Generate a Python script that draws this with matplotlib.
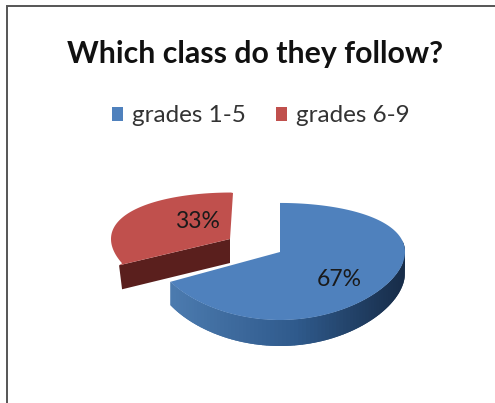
import numpy as np
import matplotlib
matplotlib.use("Agg")
import matplotlib.pyplot as plt
from matplotlib.patches import Polygon, Rectangle
from matplotlib.colors import to_rgb

title = "Which class do they follow?"
categories = ["grades 1-5", "grades 6-9"]
values = [67, 33]
labels = ["67%", "33%"]
colors = ["#4F81BD", "#C0504D"]

W, H = 495, 403
plt.rcParams["font.family"] = "Lato"
fig = plt.figure(figsize=(W / 100, H / 100), dpi=100)
ax = fig.add_axes([0, 0, 1, 1])
ax.set_xlim(0, W)
ax.set_ylim(H, 0)
ax.axis("off")

ax.add_patch(Rectangle((7, 6), W + 10, H + 10, fc="white", ec="#555555", lw=1.4))


def project(t, r=1.0, cx=280.0, cy=252.0, a_x=125.0, a_y=57.0):
    """t in degrees, clockwise from top; perspective squash of a unit disc."""
    a = np.radians(t)
    c, s = np.sin(a) * r, -np.cos(a) * r
    k = 0.162
    return cx + a_x * c, cy + a_y * s / (1 - k * s)


def lerp(c1, c2, f):
    a, b = np.array(to_rgb(c1)), np.array(to_rgb(c2))
    return tuple(a + (b - a) * f)


total = sum(values)
sweep_blue = 360.0 * values[0] / total

# blue: cut wall along the vertical edge
x0, y0 = project(0.0, 0.0)
x1, y1 = project(0.0)
ax.add_patch(Polygon([(x1, y1), (x0, y0), (x0, y0 + 12), (x1, y1 + 12)],
                     fc="#1f3a5c", ec="none", zorder=2))

# blue: outer wall with shading, from right extreme to left tip
ts = np.linspace(78, sweep_blue, 90)
for a, b in zip(ts[:-1], ts[1:]):
    b2 = min(b + 2.0, sweep_blue)
    xa, ya = project(a)
    xb, yb = project(b2)
    da = 21 + 5 * (-np.cos(np.radians(a)))
    db = 21 + 5 * (-np.cos(np.radians(b2)))
    f = (xa - 168) / 237
    col = lerp("#4D7CB0", "#2F5A8C", f / 0.55) if f < 0.55 else lerp("#2F5A8C", "#172C48", (f - 0.55) / 0.45)
    ax.add_patch(Polygon([(xa, ya), (xb, yb), (xb, yb + db), (xa, ya + da)],
                         fc=col, ec="none", zorder=2))

# blue: top face
tt = np.linspace(0, sweep_blue, 200)
px, py = project(tt)
ax.add_patch(Polygon(np.vstack([[x0, y0], np.column_stack([px, py])]), fc=colors[0], ec="none", zorder=3))

# red: exploded slice
tr = np.linspace(sweep_blue + 4, 360, 120)
rx, ry = project(tr, cx=231.0, cy=239.0, a_x=120.0, a_y=54.0)
ax_, ay_ = 230.0, 239.0
tip = (rx[0] - 3, ry[0] + 2)
ax.add_patch(Polygon([(ax_, ay_), tip, (tip[0] + 3, tip[1] + 24), (ax_, ay_ + 24)],
                     fc="#5A1F1D", ec="none", zorder=2))
ax.add_patch(Polygon(np.vstack([[ax_, ay_], [tip], np.column_stack([rx, ry]), [[233, 193]]]),
                     fc=colors[1], ec="none", zorder=3))

ax.text(339, 280, labels[0], fontsize=16.5, color="#1a1a1a", ha="center", va="center", zorder=5)
ax.text(197, 221, labels[1], fontsize=16.5, color="#1a1a1a", ha="center", va="center", zorder=5)

ax.text(255, 54, title, fontsize=21.8, fontweight="bold", color="#111111", ha="center", va="center")

# legend
handles = [Rectangle((0, 0), 1, 1, fc=c, ec="none") for c in colors]
ax.legend(handles, categories, ncol=2, loc="center", bbox_to_anchor=(261 / W, 1 - 116 / H),
          frameon=False, fontsize=17.5, labelcolor="#333333", handlelength=0.47, handleheight=0.5,
          handletextpad=0.37, columnspacing=1.23)

fig.savefig("out.png", dpi=100)
